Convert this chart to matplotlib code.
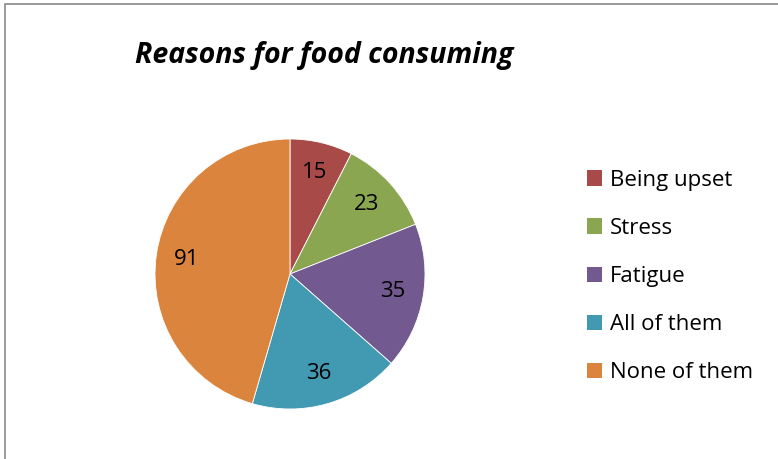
import matplotlib
matplotlib.use("Agg")
import matplotlib.pyplot as plt
from matplotlib.patches import Rectangle, Patch

categories = ["Being upset", "Stress", "Fatigue", "All of them", "None of them"]
counts = [15, 23, 35, 36, 91]
colors = ["#a84a47", "#8ba650", "#72598f", "#4299b2", "#db843d"]

plt.rcParams["font.family"] = ["Open Sans", "DejaVu Sans"]

W, H = 778, 459
fig = plt.figure(figsize=(W / 100, H / 100), dpi=100)

# outer chart frame (runs off the right and bottom edges)
fig.patches.append(Rectangle((4.5 / W, -0.1), 1.2, (H - 4.5) / H + 0.1,
                             transform=fig.transFigure, fill=False,
                             edgecolor="#8a8a8a", linewidth=1.2))

fig.text(324 / W, 1 - 55 / H, "Reasons for food consuming", ha="center",
         va="center", fontsize=20.5, fontweight="bold", fontstyle="italic")

cx, cy, r = 290, 274, 135
ax = fig.add_axes([(cx - r) / W, (H - cy - r) / H, 2 * r / W, 2 * r / H])
wedges, texts, autotexts = ax.pie(
    counts, colors=colors, startangle=90, counterclock=False,
    autopct=lambda p: f"{round(p * sum(counts) / 100):d}", pctdistance=0.77,
    wedgeprops=dict(linewidth=0.6, edgecolor="white"),
    textprops=dict(fontsize=16, color="black"))
ax.set_xlim(-1, 1)
ax.set_ylim(-1, 1)
ax.set_aspect("equal")

handles = [Patch(facecolor=c, edgecolor="none") for c in colors]
fig.legend(handles, categories, loc="upper left",
           bbox_to_anchor=(578 / W, 1 - 161 / H), frameon=False,
           fontsize=16, handlelength=0.7, handleheight=0.7,
           handletextpad=0.35, labelspacing=1.22, borderaxespad=0)

fig.savefig("out.png", dpi=100)
